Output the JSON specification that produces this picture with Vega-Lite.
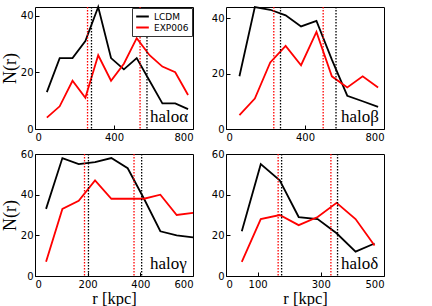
{
  "$schema": "https://vega.github.io/schema/vega-lite/v6.json",
  "padding": {"left": 0, "top": 2, "right": 5, "bottom": 0},
  "background": "white",
  "datasets": {
    "lines": [
      {"panel": "a", "series": "LCDM", "r": 60, "N": 13}, {"panel": "a", "series": "LCDM", "r": 125, "N": 25}, {"panel": "a", "series": "LCDM", "r": 190, "N": 25}, {"panel": "a", "series": "LCDM", "r": 255, "N": 31}, {"panel": "a", "series": "LCDM", "r": 320, "N": 43}, {"panel": "a", "series": "LCDM", "r": 385, "N": 25}, {"panel": "a", "series": "LCDM", "r": 450, "N": 21}, {"panel": "a", "series": "LCDM", "r": 515, "N": 25}, {"panel": "a", "series": "LCDM", "r": 580, "N": 17}, {"panel": "a", "series": "LCDM", "r": 645, "N": 9}, {"panel": "a", "series": "LCDM", "r": 710, "N": 9}, {"panel": "a", "series": "LCDM", "r": 775, "N": 7},
      {"panel": "a", "series": "EXP006", "r": 60, "N": 4}, {"panel": "a", "series": "EXP006", "r": 125, "N": 8}, {"panel": "a", "series": "EXP006", "r": 190, "N": 17}, {"panel": "a", "series": "EXP006", "r": 255, "N": 11}, {"panel": "a", "series": "EXP006", "r": 320, "N": 26}, {"panel": "a", "series": "EXP006", "r": 385, "N": 17}, {"panel": "a", "series": "EXP006", "r": 450, "N": 23}, {"panel": "a", "series": "EXP006", "r": 515, "N": 32}, {"panel": "a", "series": "EXP006", "r": 580, "N": 26}, {"panel": "a", "series": "EXP006", "r": 645, "N": 22}, {"panel": "a", "series": "EXP006", "r": 710, "N": 20}, {"panel": "a", "series": "EXP006", "r": 775, "N": 12},
      {"panel": "b", "series": "LCDM", "r": 68, "N": 19}, {"panel": "b", "series": "LCDM", "r": 146, "N": 44}, {"panel": "b", "series": "LCDM", "r": 224, "N": 43}, {"panel": "b", "series": "LCDM", "r": 302, "N": 41}, {"panel": "b", "series": "LCDM", "r": 380, "N": 37}, {"panel": "b", "series": "LCDM", "r": 458, "N": 39}, {"panel": "b", "series": "LCDM", "r": 536, "N": 25}, {"panel": "b", "series": "LCDM", "r": 614, "N": 12}, {"panel": "b", "series": "LCDM", "r": 692, "N": 10}, {"panel": "b", "series": "LCDM", "r": 770, "N": 8},
      {"panel": "b", "series": "EXP006", "r": 68, "N": 5}, {"panel": "b", "series": "EXP006", "r": 146, "N": 11}, {"panel": "b", "series": "EXP006", "r": 224, "N": 24}, {"panel": "b", "series": "EXP006", "r": 302, "N": 30}, {"panel": "b", "series": "EXP006", "r": 380, "N": 23}, {"panel": "b", "series": "EXP006", "r": 458, "N": 35}, {"panel": "b", "series": "EXP006", "r": 536, "N": 19}, {"panel": "b", "series": "EXP006", "r": 614, "N": 15}, {"panel": "b", "series": "EXP006", "r": 692, "N": 19}, {"panel": "b", "series": "EXP006", "r": 770, "N": 15},
      {"panel": "c", "series": "LCDM", "r": 42, "N": 33}, {"panel": "c", "series": "LCDM", "r": 104, "N": 58}, {"panel": "c", "series": "LCDM", "r": 166, "N": 55}, {"panel": "c", "series": "LCDM", "r": 228, "N": 56}, {"panel": "c", "series": "LCDM", "r": 290, "N": 58}, {"panel": "c", "series": "LCDM", "r": 352, "N": 53}, {"panel": "c", "series": "LCDM", "r": 414, "N": 38}, {"panel": "c", "series": "LCDM", "r": 476, "N": 22}, {"panel": "c", "series": "LCDM", "r": 538, "N": 20}, {"panel": "c", "series": "LCDM", "r": 600, "N": 19},
      {"panel": "c", "series": "EXP006", "r": 42, "N": 7}, {"panel": "c", "series": "EXP006", "r": 104, "N": 33}, {"panel": "c", "series": "EXP006", "r": 166, "N": 37}, {"panel": "c", "series": "EXP006", "r": 228, "N": 47}, {"panel": "c", "series": "EXP006", "r": 290, "N": 38}, {"panel": "c", "series": "EXP006", "r": 352, "N": 38}, {"panel": "c", "series": "EXP006", "r": 414, "N": 38}, {"panel": "c", "series": "EXP006", "r": 476, "N": 40}, {"panel": "c", "series": "EXP006", "r": 538, "N": 30}, {"panel": "c", "series": "EXP006", "r": 600, "N": 31},
      {"panel": "d", "series": "LCDM", "r": 50, "N": 22}, {"panel": "d", "series": "LCDM", "r": 110, "N": 55}, {"panel": "d", "series": "LCDM", "r": 170, "N": 47}, {"panel": "d", "series": "LCDM", "r": 230, "N": 29}, {"panel": "d", "series": "LCDM", "r": 290, "N": 28}, {"panel": "d", "series": "LCDM", "r": 350, "N": 21}, {"panel": "d", "series": "LCDM", "r": 410, "N": 12}, {"panel": "d", "series": "LCDM", "r": 470, "N": 16},
      {"panel": "d", "series": "EXP006", "r": 50, "N": 7}, {"panel": "d", "series": "EXP006", "r": 110, "N": 28}, {"panel": "d", "series": "EXP006", "r": 170, "N": 30}, {"panel": "d", "series": "EXP006", "r": 230, "N": 25}, {"panel": "d", "series": "EXP006", "r": 290, "N": 29}, {"panel": "d", "series": "EXP006", "r": 350, "N": 36}, {"panel": "d", "series": "EXP006", "r": 410, "N": 28}, {"panel": "d", "series": "EXP006", "r": 470, "N": 15}
    ],
    "rules": [
      {"panel": "a", "series": "EXP006", "r": 266}, {"panel": "a", "series": "LCDM", "r": 286}, {"panel": "a", "series": "EXP006", "r": 532}, {"panel": "a", "series": "LCDM", "r": 567},
      {"panel": "b", "series": "EXP006", "r": 242}, {"panel": "b", "series": "LCDM", "r": 276}, {"panel": "b", "series": "EXP006", "r": 492}, {"panel": "b", "series": "LCDM", "r": 557},
      {"panel": "c", "series": "EXP006", "r": 188}, {"panel": "c", "series": "LCDM", "r": 203}, {"panel": "c", "series": "EXP006", "r": 376}, {"panel": "c", "series": "LCDM", "r": 405},
      {"panel": "d", "series": "EXP006", "r": 165}, {"panel": "d", "series": "LCDM", "r": 176}, {"panel": "d", "series": "EXP006", "r": 332}, {"panel": "d", "series": "LCDM", "r": 353}
    ],
    "labels": [
      {"panel": "a", "r": 582, "N": 0, "label": "haloα"},
      {"panel": "b", "r": 582, "N": 0, "label": "haloβ"},
      {"panel": "c", "r": 437, "N": 0, "label": "haloγ"},
      {"panel": "d", "r": 364, "N": 0, "label": "haloδ"}
    ]
  },
  "columns": 2,
  "spacing": {"row": 25, "column": 33},
  "bounds": "flush",
  "resolve": {"scale": {"color": "independent"}, "legend": {"color": "independent"}},
  "concat": [
    {
      "width": 158, "height": 122,
      "layer": [
        {"data": {"name": "lines"}, "transform": [{"filter": "datum.panel === 'a'"}],
         "mark": {"type": "line", "strokeWidth": 1.8},
         "encoding": {
           "x": {"field": "r", "type": "quantitative", "title": null, "scale": {"domain": [0, 800], "nice": false}, "axis": {"values": [0, 200, 400, 600, 800]}},
           "y": {"field": "N", "type": "quantitative", "title": "N(r)", "scale": {"domain": [0, 43], "nice": false}, "axis": {"values": [0, 10, 20, 30, 40]}},
           "color": {"field": "series", "type": "nominal", "scale": {"domain": ["LCDM", "EXP006"], "range": ["#000000", "#ff0000"]},
             "legend": {"orient": "top-right", "title": null, "symbolType": "stroke", "symbolSize": 160, "symbolStrokeWidth": 2, "labelFont": "DejaVu Sans", "labelFontSize": 9, "labelColor": "#000", "labelOffset": 4, "strokeColor": "#333", "fillColor": "#fff", "padding": 3, "offset": 1, "rowPadding": 0, "clipHeight": 11, "cornerRadius": 0}}
         }},
        {"data": {"name": "rules"}, "transform": [{"filter": "datum.panel === 'a'"}],
         "mark": {"type": "rule", "strokeWidth": 1.3, "strokeDash": [1.5, 1.5]},
         "encoding": {
           "x": {"field": "r", "type": "quantitative", "title": null},
           "color": {"field": "series", "type": "nominal", "legend": null}
         }},
        {"data": {"name": "labels"}, "transform": [{"filter": "datum.panel === 'a'"}],
         "mark": {"type": "text", "font": "Liberation Serif", "fontSize": 17, "align": "left", "baseline": "alphabetic", "dy": -7, "color": "#000"},
         "encoding": {
           "x": {"field": "r", "type": "quantitative", "title": null},
           "y": {"field": "N", "type": "quantitative", "title": "N(r)"},
           "text": {"field": "label"}
         }}
      ]
    },
    {
      "width": 158, "height": 122,
      "layer": [
        {"data": {"name": "lines"}, "transform": [{"filter": "datum.panel === 'b'"}],
         "mark": {"type": "line", "strokeWidth": 1.8},
         "encoding": {
           "x": {"field": "r", "type": "quantitative", "title": null, "scale": {"domain": [0, 800], "nice": false}, "axis": {"values": [0, 200, 400, 600, 800]}},
           "y": {"field": "N", "type": "quantitative", "title": null, "scale": {"domain": [0, 44], "nice": false}, "axis": {"values": [0, 10, 20, 30, 40]}},
           "color": {"field": "series", "type": "nominal", "scale": {"domain": ["LCDM", "EXP006"], "range": ["#000000", "#ff0000"]}, "legend": null}
         }},
        {"data": {"name": "rules"}, "transform": [{"filter": "datum.panel === 'b'"}],
         "mark": {"type": "rule", "strokeWidth": 1.3, "strokeDash": [1.5, 1.5]},
         "encoding": {
           "x": {"field": "r", "type": "quantitative", "title": null},
           "color": {"field": "series", "type": "nominal", "legend": null}
         }},
        {"data": {"name": "labels"}, "transform": [{"filter": "datum.panel === 'b'"}],
         "mark": {"type": "text", "font": "Liberation Serif", "fontSize": 17, "align": "left", "baseline": "alphabetic", "dy": -7, "color": "#000"},
         "encoding": {
           "x": {"field": "r", "type": "quantitative", "title": null},
           "y": {"field": "N", "type": "quantitative", "title": null},
           "text": {"field": "label"}
         }}
      ]
    },
    {
      "width": 158, "height": 122,
      "layer": [
        {"data": {"name": "lines"}, "transform": [{"filter": "datum.panel === 'c'"}],
         "mark": {"type": "line", "strokeWidth": 1.8},
         "encoding": {
           "x": {"field": "r", "type": "quantitative", "title": "r [kpc]", "scale": {"domain": [0, 600], "nice": false}, "axis": {"values": [0, 200, 400, 600]}},
           "y": {"field": "N", "type": "quantitative", "title": "N(r)", "scale": {"domain": [0, 60], "nice": false}, "axis": {"values": [0, 10, 20, 30, 40, 50, 60]}},
           "color": {"field": "series", "type": "nominal", "scale": {"domain": ["LCDM", "EXP006"], "range": ["#000000", "#ff0000"]}, "legend": null}
         }},
        {"data": {"name": "rules"}, "transform": [{"filter": "datum.panel === 'c'"}],
         "mark": {"type": "rule", "strokeWidth": 1.3, "strokeDash": [1.5, 1.5]},
         "encoding": {
           "x": {"field": "r", "type": "quantitative", "title": "r [kpc]"},
           "color": {"field": "series", "type": "nominal", "legend": null}
         }},
        {"data": {"name": "labels"}, "transform": [{"filter": "datum.panel === 'c'"}],
         "mark": {"type": "text", "font": "Liberation Serif", "fontSize": 17, "align": "left", "baseline": "alphabetic", "dy": -7, "color": "#000"},
         "encoding": {
           "x": {"field": "r", "type": "quantitative", "title": "r [kpc]"},
           "y": {"field": "N", "type": "quantitative", "title": "N(r)"},
           "text": {"field": "label"}
         }}
      ]
    },
    {
      "width": 158, "height": 122,
      "layer": [
        {"data": {"name": "lines"}, "transform": [{"filter": "datum.panel === 'd'"}],
         "mark": {"type": "line", "strokeWidth": 1.8},
         "encoding": {
           "x": {"field": "r", "type": "quantitative", "title": "r [kpc]", "scale": {"domain": [0, 500], "nice": false}, "axis": {"values": [0, 100, 300, 500]}},
           "y": {"field": "N", "type": "quantitative", "title": null, "scale": {"domain": [0, 60], "nice": false}, "axis": {"values": [0, 10, 20, 30, 40, 50, 60]}},
           "color": {"field": "series", "type": "nominal", "scale": {"domain": ["LCDM", "EXP006"], "range": ["#000000", "#ff0000"]}, "legend": null}
         }},
        {"data": {"name": "rules"}, "transform": [{"filter": "datum.panel === 'd'"}],
         "mark": {"type": "rule", "strokeWidth": 1.3, "strokeDash": [1.5, 1.5]},
         "encoding": {
           "x": {"field": "r", "type": "quantitative", "title": "r [kpc]"},
           "color": {"field": "series", "type": "nominal", "legend": null}
         }},
        {"data": {"name": "labels"}, "transform": [{"filter": "datum.panel === 'd'"}],
         "mark": {"type": "text", "font": "Liberation Serif", "fontSize": 17, "align": "left", "baseline": "alphabetic", "dy": -7, "color": "#000"},
         "encoding": {
           "x": {"field": "r", "type": "quantitative", "title": "r [kpc]"},
           "y": {"field": "N", "type": "quantitative", "title": null},
           "text": {"field": "label"}
         }}
      ]
    }
  ],
  "config": {
    "view": {"stroke": "#000", "strokeWidth": 1},
    "axis": {"grid": false, "domain": false, "tickColor": "#000", "tickSize": -4, "labelFont": "DejaVu Sans", "labelFontSize": 10, "labelColor": "#000", "titleFont": "Liberation Serif", "titleFontSize": 18, "titleFontWeight": "normal", "titleColor": "#000"},
    "axisY": {"titlePadding": 1, "labelPadding": 6},
    "axisX": {"titlePadding": 1, "labelPadding": 7, "titleFontSize": 16.5}
  }
}
